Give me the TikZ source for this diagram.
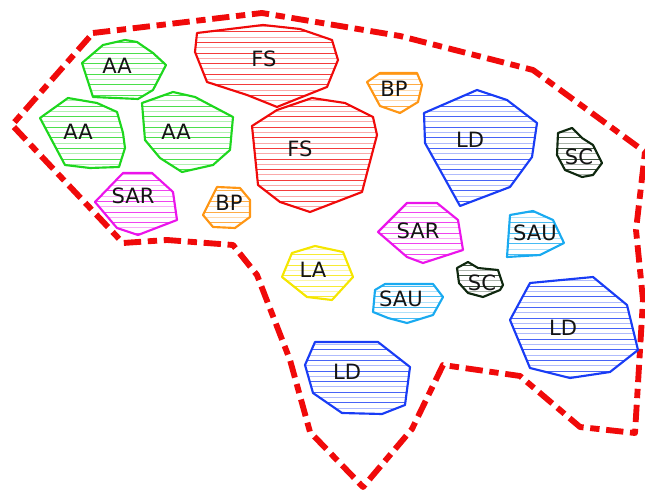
\documentclass[tikz,border=0pt]{standalone}
\usepackage{fontspec}
\setmainfont{DejaVu Sans}
\definecolor{cgreen}{RGB}{30,215,30}
\definecolor{cred}{RGB}{240,10,10}
\definecolor{cmag}{RGB}{235,20,235}
\definecolor{corange}{RGB}{255,150,20}
\definecolor{cblue}{RGB}{25,60,245}
\definecolor{cdark}{RGB}{15,40,15}
\definecolor{clblue}{RGB}{25,170,240}
\definecolor{cyellow}{RGB}{245,230,0}
\definecolor{ctext}{RGB}{20,20,20}
\tikzset{
  blobline/.style={line width=1.6pt, line join=round},
  lbl/.style={font=\fontsize{15.8}{16}\selectfont, text=ctext, inner sep=0pt},
  outerline/.style={line width=4.4pt, cred, dash pattern=on 13pt off 5pt on 7pt off 5pt, line join=round}
}
\newcommand\hatchblob[2]{%
  \begin{scope}
    \clip #2 -- cycle;
    \foreach \k in {0,2,...,92} {\draw[#1, line width=0.65pt, opacity=0.8] (0,\k*5.3) -- (645,\k*5.3);}
    \foreach \k in {1,3,...,93} {\draw[#1, line width=0.65pt, opacity=0.35] (0,\k*5.3) -- (645,\k*5.3);}
  \end{scope}
  \draw[#1, blobline] #2 -- cycle;
}
\begin{document}
\begin{tikzpicture}[x=0.75pt, y=-0.75pt]
\useasboundingbox (0,0) rectangle (645,491);
% outer boundary
\draw[outerline] (93,33) -- (262,13) -- (400,36) -- (533,70) -- (645,152) -- (636,230) -- (643,300) -- (635,433) -- (580,427) -- (520,376) -- (443,365) -- (412,429) -- (363,487) -- (310,432) -- (290,360) -- (257,275) -- (233,245) -- (167,240) -- (123,243) -- (12,125) -- cycle;
% AA top
\hatchblob{cgreen}{(82,63) -- (103,45) -- (125,40) -- (137,42) -- (153,53) -- (166,65) -- (153,90) -- (138,99) -- (93,97)}
\node[lbl] (aa1) at (117,66) {AA};
% AA left
\hatchblob{cgreen}{(40,118) -- (68,98) -- (97,103) -- (117,112) -- (123,133) -- (125,148) -- (119,167) -- (90,168) -- (65,165)}
\node[lbl] (aa2) at (78,132) {AA};
% AA right
\hatchblob{cgreen}{(142,103) -- (173,92) -- (195,97) -- (233,117) -- (230,150) -- (213,165) -- (182,172) -- (160,158) -- (145,140)}
\node[lbl] (aa3) at (176,132) {AA};
% SAR left
\hatchblob{cmag}{(95,202) -- (123,173) -- (152,173) -- (173,192) -- (177,220) -- (138,235) -- (117,228)}
\node[lbl] (sar1) at (133,196) {SAR};
% BP left
\hatchblob{corange}{(203,215) -- (217,187) -- (240,188) -- (250,200) -- (250,217) -- (235,228) -- (213,227)}
\node[lbl] (bp1) at (229,203) {BP};
% FS top
\hatchblob{cred}{(197,33) -- (263,25) -- (300,29) -- (332,40) -- (338,60) -- (327,87) -- (277,107) -- (247,95) -- (207,82) -- (195,52)}
\node[lbl] (fs1) at (264,59) {FS};
% FS lower
\hatchblob{cred}{(252,126) -- (277,110) -- (312,98) -- (345,103) -- (373,117) -- (377,135) -- (362,192) -- (310,212) -- (280,202) -- (258,185)}
\node[lbl] (fs2) at (300,149) {FS};
% BP top
\hatchblob{corange}{(367,82) -- (380,73) -- (417,73) -- (422,85) -- (418,102) -- (400,113) -- (380,106)}
\node[lbl] (bp2) at (394,89) {BP};
% LD top
\hatchblob{cblue}{(424,113) -- (477,90) -- (507,100) -- (537,123) -- (532,157) -- (510,187) -- (460,206) -- (425,143)}
\node[lbl] (ld1) at (470,140) {LD};
% SC top right
\hatchblob{cdark}{(558,133) -- (572,128) -- (582,138) -- (593,145) -- (602,163) -- (593,175) -- (582,177) -- (565,170) -- (557,155)}
\node[lbl] (sc1) at (579,157) {SC};
% SAU right
\hatchblob{clblue}{(510,215) -- (533,211) -- (553,220) -- (564,243) -- (540,255) -- (507,257)}
\node[lbl] (sau1) at (535,233) {SAU};
% SAR middle
\hatchblob{cmag}{(378,232) -- (407,203) -- (437,203) -- (458,220) -- (463,250) -- (423,263) -- (407,257)}
\node[lbl] (sar2) at (418,231) {SAR};
% SC middle
\hatchblob{cdark}{(457,268) -- (468,262) -- (478,268) -- (498,270) -- (503,285) -- (500,290) -- (483,297) -- (468,293) -- (459,283)}
\node[lbl] (sc2) at (482,283) {SC};
% LA
\hatchblob{cyellow}{(282,277) -- (292,253) -- (315,246) -- (343,252) -- (353,277) -- (332,300) -- (307,297)}
\node[lbl] (la) at (313,270) {LA};
% SAU middle
\hatchblob{clblue}{(375,290) -- (385,284) -- (433,284) -- (443,297) -- (433,315) -- (407,323) -- (388,318) -- (373,312)}
\node[lbl] (sau2) at (401,299) {SAU};
% LD lower
\hatchblob{cblue}{(305,365) -- (315,342) -- (378,342) -- (410,367) -- (405,405) -- (382,414) -- (342,413) -- (313,393)}
\node[lbl] (ld2) at (347,372) {LD};
% LD right
\hatchblob{cblue}{(510,320) -- (530,283) -- (593,277) -- (627,305) -- (638,350) -- (610,372) -- (570,378) -- (530,368)}
\node[lbl] (ld3) at (563,328) {LD};
\end{tikzpicture}
\end{document}
